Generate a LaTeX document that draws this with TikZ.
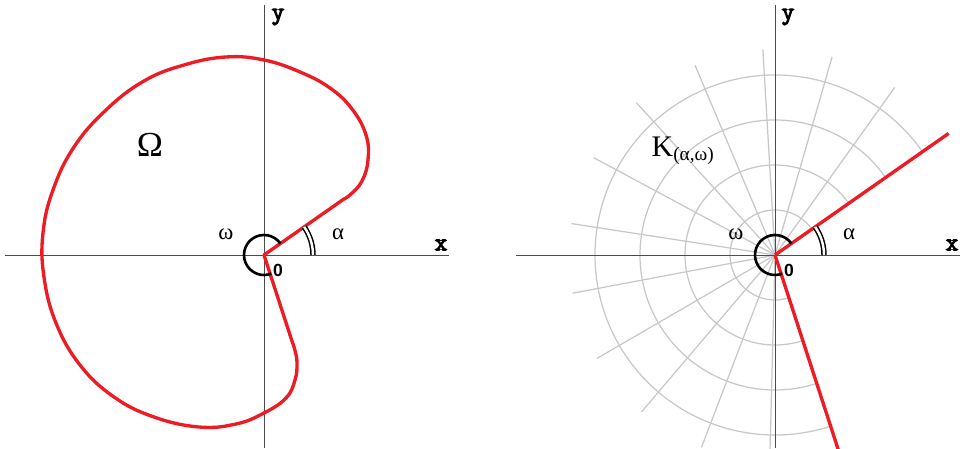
\documentclass[tikz,border=0pt]{standalone}
\usepackage{fontspec}
\setmainfont{Liberation Serif}
\newfontfamily\zerofont{Liberation Sans}
\newfontfamily\axisfont[FakeBold=4]{Latin Modern Mono}
\definecolor{domred}{RGB}{237,28,36}

\begin{document}
\begin{tikzpicture}[x=0.02cm,y=0.02cm,line width=0.8pt]
\tikzset{axis/.style={line width=0.55pt,draw=black!70},
  bound/.style={line width=1.9pt,draw=domred,line join=round},
  polargrid/.style={line width=0.7pt,draw=black!22},
  omegaarc/.style={line width=1.5pt},
  alphaarc/.style={line width=0.85pt,double,double distance=1.4pt},
  axlabel/.style={font=\axisfont\bfseries\fontsize{14}{14}\selectfont,inner sep=0pt},
  greek/.style={font=\fontsize{13}{13}\selectfont,inner sep=0pt,anchor=base},
  zero/.style={font=\zerofont\bfseries\fontsize{10}{10}\selectfont,inner sep=0pt,anchor=base}}
\def\aA{35}
\def\aB{288}
\useasboundingbox (0,0) rectangle (960,449);
% ---- left: the domain Omega ----
\begin{scope}[shift={(264,194)}]
  \coordinate (O1) at (0,0);
  \draw[axis] (-259,0) -- (185,0);
  \draw[axis] (0,-193) -- (0,250);
  \draw[bound] (O1) -- (\aA:97) -- plot[smooth,tension=0.7] coordinates {
    (\aA:97) (\aA:106) (98,74) (104,95) (102,120) (88,146) (66,167)
    (36,183) (0,195) (-38,198) (-80,190) (-120,174) (-158,145)
    (-190,108) (-211,65) (-221,22) (-220,-22) (-208,-68) (-184,-110)
    (-150,-142) (-110,-162) (-65,-172) (-28,-169) (0,-158) (22,-143)
    (31,-125) (33,-108) (\aB:100) (\aB:90)} -- cycle;
  \draw[omegaarc] (\aA:20) arc[start angle=\aA,end angle=291,radius=20];
  \draw[alphaarc] (49,0) arc[start angle=0,end angle=\aA,radius=49];
  \node[greek] (om1) at (-38,15) {ω};
  \node[greek] (al1) at (74,15) {α};
  \node[zero] (z1) at (14,-22) {0};
  \node[greek,font=\fontsize{20}{20}\selectfont] (dom) at (-114,98) {Ω};
  \node[axlabel] (x1) at (177,10) {x};
  \node[axlabel] (y1) at (14,238) {y};
\end{scope}
% ---- right: the cone K(alpha,omega) ----
\begin{scope}[shift={(775,194)}]
  \coordinate (O2) at (0,0);
  \foreach \r in {45,90,135,180}
    \draw[polargrid] (\aA:\r) arc[start angle=\aA,end angle=\aB,radius=\r];
  \foreach \k in {1,...,12}{
    \pgfmathsetmacro\t{\aA+\k*(\aB-\aA)/13}
    \draw[polargrid] (O2) -- (\t:206);
  }
  \draw[axis] (-259,0) -- (185,0);
  \draw[axis] (0,-193) -- (0,250);
  \draw[bound] (O2) -- (\aA:212);
  \draw[bound] (O2) -- (\aB:206);
  \draw[omegaarc] (\aA:20) arc[start angle=\aA,end angle=291,radius=20];
  \draw[alphaarc] (49,0) arc[start angle=0,end angle=\aA,radius=49];
  \node[greek] (om2) at (-39,15) {ω};
  \node[greek] (al2) at (74,15) {α};
  \node[zero] (z2) at (14,-22) {0};
  \node[inner sep=0pt,anchor=base west] (cone) at (-124,98)
    {\fontsize{17}{17}\selectfont K\raisebox{-2pt}{\fontsize{11}{11}\selectfont(α,ω)}};
  \node[axlabel] (x2) at (177,10) {x};
  \node[axlabel] (y2) at (13,238) {y};
\end{scope}
\end{tikzpicture}
\end{document}
